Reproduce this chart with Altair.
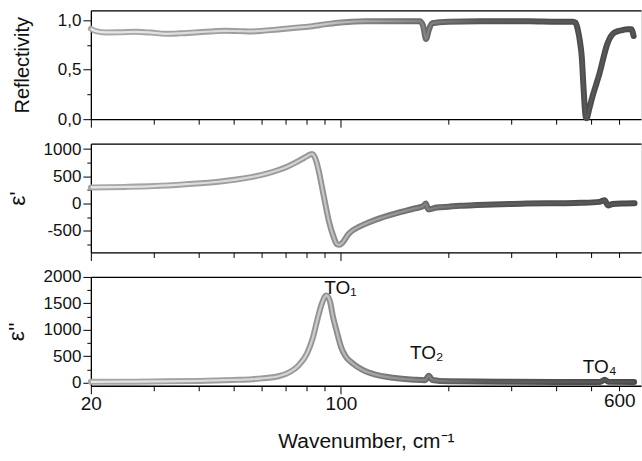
import altair as alt
import pandas as pd

# ---------------- data ----------------
nu_R = [20, 20.65, 22, 24, 26.7, 29.5, 32.4, 35.5, 39.2, 43, 47.6, 52, 56.6, 61, 66.9, 75, 83.2, 90,
        98.3, 107, 116.9, 137, 150, 166, 169.5, 173, 176, 180, 200, 245, 300, 337, 400, 445,
        453, 459, 466, 471, 477, 483, 486, 495, 505, 517, 529, 541, 553, 563, 575, 595, 613,
        632, 649, 655, 658]
R = [0.914, 0.89, 0.877, 0.878, 0.883, 0.875, 0.863, 0.868, 0.877, 0.886, 0.893, 0.89, 0.887, 0.895,
     0.907, 0.925, 0.94, 0.958, 0.975, 0.985, 0.99, 0.99, 0.99, 0.99, 0.95, 0.81, 0.90, 0.97, 0.985,
     0.99, 0.99, 0.99, 0.985, 0.985, 0.975, 0.91, 0.78, 0.64, 0.30, 0.03, 0.01, 0.11, 0.23, 0.35,
     0.47, 0.61, 0.74, 0.81, 0.86, 0.89, 0.90, 0.91, 0.91, 0.87, 0.84]

nu_e1 = [20, 25, 30, 37, 45.5, 51, 56.6, 62, 66.9, 71, 74.6, 78, 80.4, 83, 84.8, 86.6, 88.5, 90.4,
         92.4, 95.4, 97.5, 99, 101, 105, 113, 120, 128.8, 146.4, 160, 169.7, 172.7, 175.6, 185.3,
         200, 215, 240, 266, 300, 330, 409, 470, 528, 546, 558, 575, 620, 662]
e1 = [295, 305, 320, 355, 400, 440, 490, 550, 615, 680, 750, 820, 870, 910, 830, 615, 308, 0,
      -306, -613, -750, -760, -720, -560, -420, -345, -270, -160, -95, -50, 0, -110, -75,
      -58, -42, -28, -18, -8, -2, 5, 12, 30, 60, -35, -10, 0, 5]

nu_e2 = [20, 25, 30, 40, 50, 56.6, 60, 66.9, 72, 76, 80.4, 83.5, 86, 88.5, 91, 93, 95, 97.5, 100,
         103, 108, 115, 125, 140, 160, 172, 176, 180, 200, 300, 400, 530, 546, 560, 660]
e2 = [15, 17, 22, 32, 50, 65, 80, 120, 200, 320, 550, 850, 1200, 1500, 1650, 1560, 1250, 950, 680,
      500, 360, 240, 150, 90, 55, 45, 130, 50, 25, 15, 12, 12, 55, 15, 12]

to_labels = ["TO\u2081", "TO\u2082", "TO\u2084"]
to_nu = [89.9, 156, 474]
to_val = [1674, 447, 183]

x_major = [20, 100]
x_minor = [30, 40, 50, 60, 70, 80, 90, 200, 300, 400, 500, 600]

# ---------------- styling ----------------
W, H = 551, 109
LEFT, TOP, BOTTOM = 90, 9, 76
FONT = "Liberation Sans"
INK = "#111111"
xscale = alt.Scale(type="log", domain=[20, 690], nice=False)

outer_grad = alt.Gradient(
    gradient="linear", x1=0, x2=1, y1=0, y2=0,
    stops=[alt.GradientStop(offset=0, color="#a8a8a8"),
           alt.GradientStop(offset=0.4, color="#989898"),
           alt.GradientStop(offset=0.55, color="#777777"),
           alt.GradientStop(offset=0.72, color="#555555"),
           alt.GradientStop(offset=1, color="#4a4a4a")])
inner_grad = alt.Gradient(
    gradient="linear", x1=0, x2=1, y1=0, y2=0,
    stops=[alt.GradientStop(offset=0, color="#e8e8e8"),
           alt.GradientStop(offset=0.4, color="#d2d2d2"),
           alt.GradientStop(offset=0.55, color="#9a9a9a"),
           alt.GradientStop(offset=0.72, color="#606060"),
           alt.GradientStop(offset=1, color="#555555")])


def x_major_axis(show):
    kw = dict(values=x_major, tickSize=8, tickColor="black", tickWidth=1,
              domain=True, domainColor="black", domainWidth=1.3, grid=False,
              labels=show, labelFontSize=19, labelPadding=1, labelColor=INK,
              labelFont=FONT, orient="bottom", labelFlush=False)
    if show:
        kw.update(title="Wavenumber, cm\u207b\u00b9", titleFontSize=21, titleFont=FONT,
                  titleFontWeight="normal", titleColor=INK, titleBaseline="alphabetic",
                  titleY=62, titleX=W / 2, titleAlign="center")
    else:
        kw.update(title=None)
    return alt.Axis(**kw)


def x_minor_axis(show):
    kw = dict(values=x_minor, tickSize=5, tickColor="black", tickWidth=1,
              domain=False, grid=False, orient="bottom", title=None,
              labels=show, labelFontSize=19, labelPadding=1, labelColor=INK,
              labelFont=FONT, labelFlush=False)
    if show:
        kw.update(labelExpr="datum.value == 600 ? '600' : ''")
    return alt.Axis(**kw)


x_top_axis = alt.Axis(orient="top", ticks=False, labels=False, domain=True,
                      domainColor="black", domainWidth=1.3, grid=False, title=None)


def y_major_axis(values, expr, title, tsize, tx):
    return alt.Axis(values=values, labelExpr=expr, tickSize=8, tickColor="black",
                    domain=True, domainColor="black", domainWidth=1.3, grid=False,
                    labelFontSize=17, labelPadding=2, labelColor=INK, labelFont=FONT,
                    orient="left", title=title, titleFont=FONT, titleFontSize=tsize,
                    titleFontWeight="normal", titleColor=INK, titleAngle=270,
                    titleX=tx, titleY=H / 2, titleAlign="center", titleBaseline="middle")


def y_minor_axis(values):
    return alt.Axis(values=values, tickSize=4, tickColor="black", labels=False,
                    domain=False, grid=False, orient="left", title=None)


def frame_guide(yoff):
    # invisible horizontal guide that fixes the outer bounds of the figure
    return alt.Chart(pd.DataFrame({"k": [0]})).mark_rule(
        strokeOpacity=0, strokeWidth=0.01).encode(
        x=alt.value(-LEFT), x2=alt.value(W), y=alt.value(yoff))


def panel(nu, vals, domain, ymaj, ymin, expr, title, tsize, tx, bottom, extra=None, guide=None):
    df = pd.DataFrame({"nu": nu, "v": vals})
    ysc = alt.Scale(domain=domain, nice=False, zero=False)
    base = alt.Chart(df)
    outer = base.mark_line(stroke=outer_grad, strokeWidth=6, interpolate="monotone",
                           strokeJoin="round", strokeCap="round").encode(
        x=alt.X("nu:Q", scale=xscale, axis=x_major_axis(bottom)),
        y=alt.Y("v:Q", scale=ysc, axis=y_major_axis(ymaj, expr, title, tsize, tx)))
    inner = base.mark_line(stroke=inner_grad, strokeWidth=2.2, interpolate="monotone",
                           strokeJoin="round").encode(
        x=alt.X("nu:Q", scale=xscale, axis=x_top_axis),
        y=alt.Y("v:Q", scale=ysc, axis=y_minor_axis(ymin)))
    ghost = base.mark_line(opacity=0).encode(
        x=alt.X("nu:Q", scale=xscale, axis=x_minor_axis(bottom)),
        y=alt.Y("v:Q", scale=ysc, axis=None))
    layers = [outer, inner, ghost]
    if extra is not None:
        layers.append(extra(ysc))
    if guide is not None:
        layers.append(frame_guide(guide))
    return alt.layer(*layers).resolve_axis(x="independent", y="independent").properties(
        width=W, height=H)


def to_text(ysc):
    tdf = pd.DataFrame({"label": to_labels, "nu": to_nu, "v": to_val})
    return alt.Chart(tdf).mark_text(align="left", baseline="alphabetic", fontSize=19,
                                    font=FONT, color=INK).encode(
        x=alt.X("nu:Q", scale=xscale, axis=None),
        y=alt.Y("v:Q", scale=ysc, axis=None),
        text="label:N")


p1 = panel(nu_R, R, [0, 1.1], [0, 0.5, 1.0], [0.25, 0.75],
           "replace(format(datum.value, '.1f'), '.', ',')", "Reflectivity", 20, -68, False,
           guide=-TOP)
p2 = panel(nu_e1, e1, [-900, 1100], [-500, 0, 500, 1000], [-750, -250, 250, 750],
           "'' + datum.value", "\u03b5'", 23, -73, False)
p3 = panel(nu_e2, e2, [-60, 2000], [0, 500, 1000, 1500, 2000], [250, 750, 1250, 1750],
           "'' + datum.value", "\u03b5''", 23, -74, True, extra=to_text, guide=H + BOTTOM)

chart = alt.vconcat(p1, p2, p3, spacing=24.5, bounds="flush").properties(
    padding=0,
).configure_view(stroke=None).configure(background="white")

chart.save("out.html", embed_options={"renderer": "svg", "actions": False})
